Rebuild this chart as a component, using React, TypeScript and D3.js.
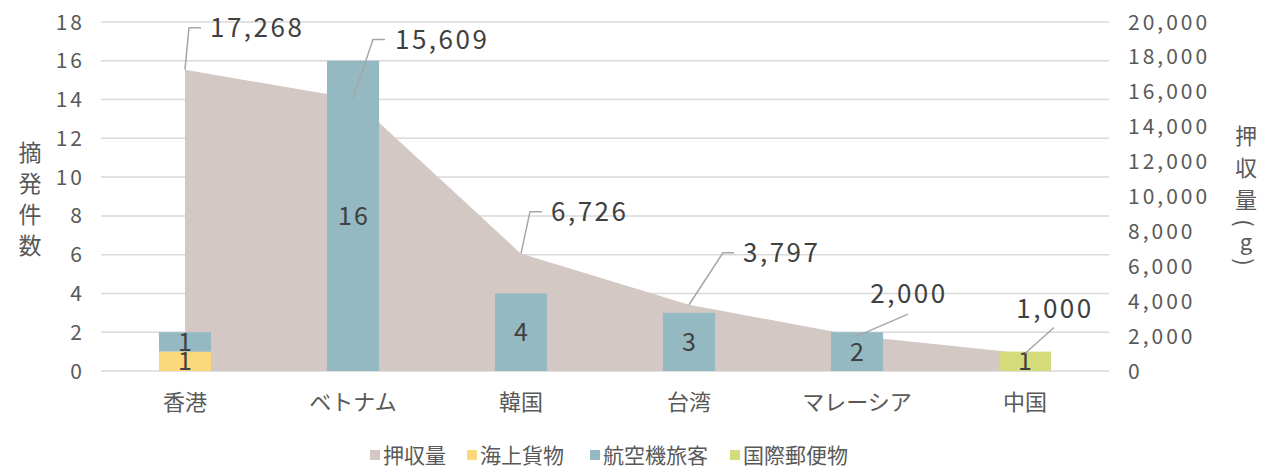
import React from "react";
import * as d3 from "d3";

const categories = ["香港", "ベトナム", "韓国", "台湾", "マレーシア", "中国"];
const seizure = [17268, 15609, 6726, 3797, 2000, 1000];
const seaCargo = [1, 0, 0, 0, 0, 0];
const airPassenger = [1, 16, 4, 3, 2, 0];
const intlMail = [0, 0, 0, 0, 0, 1];
const leftTicks = [0, 2, 4, 6, 8, 10, 12, 14, 16, 18];
const rightTicks = [0, 2000, 4000, 6000, 8000, 10000, 12000, 14000, 16000, 18000, 20000];
const legendItems = ["押収量", "海上貨物", "航空機旅客", "国際郵便物"];

const COLORS = {
  area: "#d3c8c4",
  sea: "#fad87b",
  air: "#95b9c3",
  mail: "#d4db7b",
};
const FONT = "'Noto Sans CJK JP', 'Noto Sans', sans-serif";

const labelLayout = [
  { bx: 4, by: -42, ex: 16, tx: 25, ty: -42, anchor: "start" },
  { bx: 20, by: -59, ex: 32, tx: 42, ty: -59, anchor: "start" },
  { bx: 9, by: -42, ex: 21, tx: 30, ty: -42, anchor: "start" },
  { bx: 34, by: -52, ex: 45, tx: 54, ty: -52, anchor: "start" },
  { bx: 51, by: -22, ex: 51, tx: 51, ty: -42, anchor: "middle" },
  { bx: 29, by: -26, ex: 29, tx: 29, ty: -45, anchor: "middle" },
];

export default function App() {
  const W = 1263, H = 476;
  const x0 = 101, x1 = 1109, yTop = 22, yBot = 371;

  const x = d3.scaleBand<string>().domain(categories).range([x0, x1]).paddingInner(0.69).paddingOuter(0.345);
  const yL = d3.scaleLinear().domain([0, 18]).range([yBot, yTop]);
  const yR = d3.scaleLinear().domain([0, 20000]).range([yBot, yTop]);
  const cx = (c: string) => (x(c) as number) + x.bandwidth() / 2;

  const area = d3
    .area<number>()
    .x((_, i) => cx(categories[i]))
    .y0(yBot)
    .y1((d) => yR(d));

  const stacks = categories.map((c, i) => {
    const segs: { v: number; color: string; y0: number }[] = [];
    let acc = 0;
    [
      [seaCargo[i], COLORS.sea],
      [airPassenger[i], COLORS.air],
      [intlMail[i], COLORS.mail],
    ].forEach(([v, color]) => {
      if ((v as number) > 0) {
        segs.push({ v: v as number, color: color as string, y0: acc });
        acc += v as number;
      }
    });
    return segs;
  });

  const leftTitle = ["摘", "発", "件", "数"];
  const rightTitle = [
    { ch: "押", y: 136, rot: false },
    { ch: "収", y: 168, rot: false },
    { ch: "量", y: 200, rot: false },
    { ch: "(", y: 223, rot: true },
    { ch: "g", y: 242, rot: false },
    { ch: ")", y: 262, rot: true },
  ];

  const legendX = [370, 467, 590, 730];

  return (
    <svg width={W} height={H} style={{ position: "absolute", left: 0, top: 0, background: "#fff" }} fontFamily={FONT}>
      {leftTicks.map((t) => (
        <line key={t} x1={x0} x2={x1} y1={yL(t)} y2={yL(t)} stroke="#d9d9d9" strokeWidth={1.5} />
      ))}
      <path d={area(seizure) || ""} fill={COLORS.area} />
      {categories.map((c, i) =>
        stacks[i].map((s, j) => (
          <rect
            key={c + j}
            x={x(c)}
            width={x.bandwidth()}
            y={yL(s.y0 + s.v)}
            height={yL(s.y0) - yL(s.y0 + s.v)}
            fill={s.color}
          />
        ))
      )}
      {categories.map((c, i) =>
        stacks[i].map((s, j) => (
          <text
            key={"l" + c + j}
            x={cx(c) + 1}
            y={(yL(s.y0) + yL(s.y0 + s.v)) / 2}
            dy="0.36em"
            textAnchor="middle"
            fontSize={25}
            letterSpacing={2}
            fill="#404040"
          >
            {s.v}
          </text>
        ))
      )}
      {seizure.map((v, i) => {
        const px = cx(categories[i]);
        const py = yR(v);
        const L = labelLayout[i];
        return (
          <g key={"s" + i}>
            <polyline
              points={`${px},${py} ${px + L.bx},${py + L.by} ${px + L.ex},${py + L.by}`}
              fill="none"
              stroke="#a6a6a6"
              strokeWidth={1.5}
            />
            <text
              x={px + L.tx + (L.anchor === "middle" ? 1 : 0)}
              y={py + L.ty}
              dy="0.36em"
              textAnchor={L.anchor as any}
              fontSize={26}
              letterSpacing={2.5}
              fill="#404040"
            >
              {d3.format(",")(v)}
            </text>
          </g>
        );
      })}
      {leftTicks.map((t) => (
        <text key={"lt" + t} x={85} y={yL(t)} dy="0.36em" textAnchor="end" fontSize={21} letterSpacing={3} fill="#595959">
          {t}
        </text>
      ))}
      {rightTicks.map((t) => (
        <text key={"rt" + t} x={1128} y={yR(t)} dy="0.36em" textAnchor="start" fontSize={21} letterSpacing={3} fill="#595959">
          {d3.format(",")(t)}
        </text>
      ))}
      {categories.map((c) => (
        <text key={"c" + c} x={cx(c)} y={402} dy="0.36em" textAnchor="middle" fontSize={22} fill="#595959">
          {c}
        </text>
      ))}
      {leftTitle.map((ch, i) => (
        <text key={"ltt" + ch} x={30} y={153 + i * 31} dy="0.36em" textAnchor="middle" fontSize={23} fill="#595959">
          {ch}
        </text>
      ))}
      {rightTitle.map((r, i) =>
        r.rot ? (
          <text
            key={"rtt" + i}
            x={1246}
            y={r.y}
            dominantBaseline="central"
            textAnchor="middle"
            fontSize={22}
            fill="#595959"
            transform={`rotate(90 1246 ${r.y})`}
          >
            {r.ch}
          </text>
        ) : (
          <text key={"rtt" + i} x={1246} y={r.y} dy="0.36em" textAnchor="middle" fontSize={22} fill="#595959">
            {r.ch}
          </text>
        )
      )}
      {legendItems.map((name, i) => (
        <g key={"lg" + name}>
          <rect
            x={legendX[i]}
            y={450}
            width={10}
            height={10}
            fill={[COLORS.area, COLORS.sea, COLORS.air, COLORS.mail][i]}
          />
          <text x={legendX[i] + 13} y={455} dy="0.36em" fontSize={21} fill="#595959">
            {name}
          </text>
        </g>
      ))}
    </svg>
  );
}
